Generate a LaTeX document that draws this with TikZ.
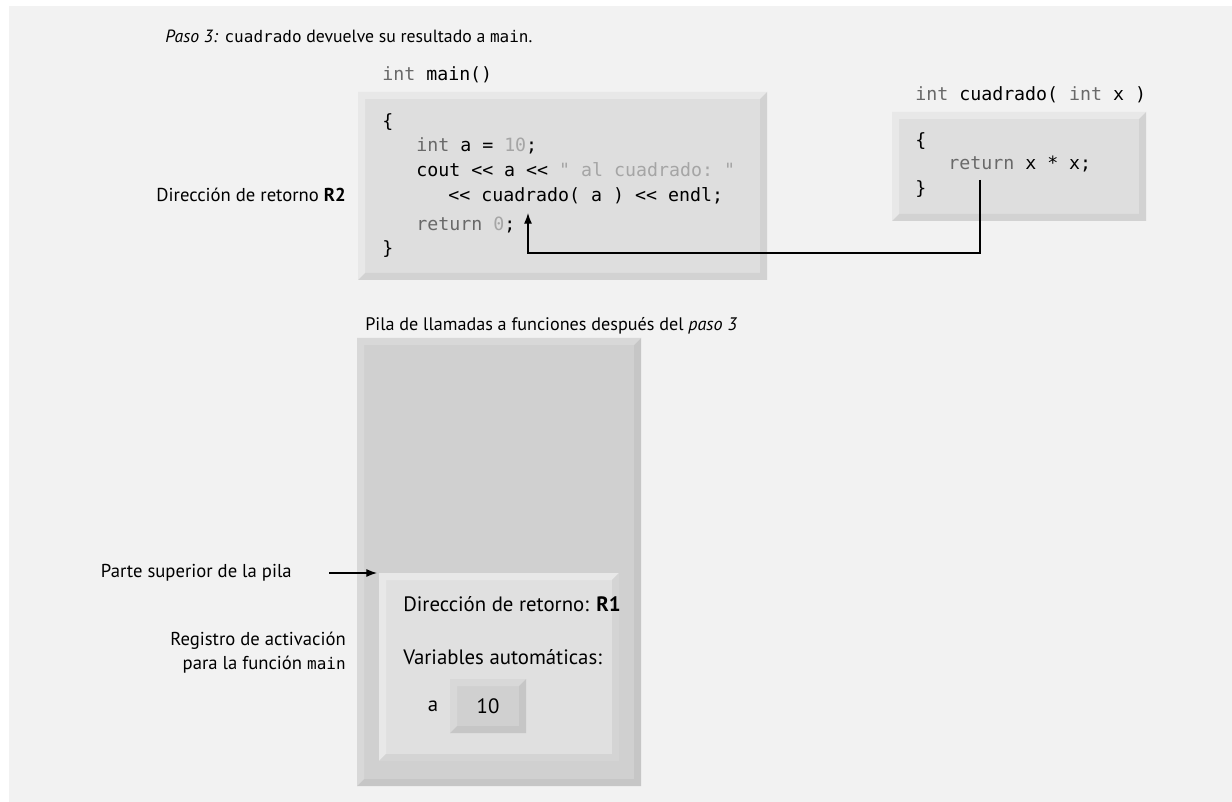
\documentclass[tikz,border=0pt]{standalone}
\usepackage{fontspec}
\setmainfont{PT Sans}
\setmonofont{DejaVu Sans Mono}
\usepackage{xcolor}
\definecolor{fondo}{RGB}{242,242,242}
\definecolor{palabra}{RGB}{105,105,105}
\definecolor{literal}{RGB}{165,165,165}
\definecolor{cara}{RGB}{222,222,222}
\definecolor{caraluz}{RGB}{232,232,232}
\definecolor{carasombra}{RGB}{210,210,210}
\definecolor{pila}{RGB}{208,208,208}
\definecolor{pilaluz}{RGB}{216,216,216}
\definecolor{pilasombra}{RGB}{198,198,198}
\definecolor{registro}{RGB}{224,224,224}
\definecolor{registroluz}{RGB}{232,232,232}
\definecolor{registrosombra}{RGB}{212,212,212}
\usepackage{tikz}
\usetikzlibrary{arrows.meta, positioning, calc}

\newcommand{\codefont}{\fontsize{13.7pt}{16pt}\selectfont\ttfamily}
\newcommand{\titlefont}{\fontsize{13.3pt}{16pt}\selectfont}
\newcommand{\sidefont}{\fontsize{14pt}{18pt}\selectfont}
\newcommand{\pilafont}{\fontsize{13.6pt}{16pt}\selectfont}
\newcommand{\recfont}{\fontsize{15.6pt}{18pt}\selectfont}
\newcommand{\kw}[1]{\textcolor{palabra}{#1}}
\newcommand{\lit}[1]{\textcolor{literal}{#1}}
\newcommand{\mn}[1]{{\fontsize{12pt}{14pt}\selectfont\ttfamily #1}}
% bevel round a face node: node, width, light, dark
\newcommand{\bevel}[4]{%
  \fill[#3] ($(#1.north west)+(-#2,-#2)$) -- ($(#1.north east)+(#2,-#2)$)
    -- (#1.north east) -- (#1.north west) -- (#1.south west)
    -- ($(#1.south west)+(-#2,#2)$) -- cycle;
  \fill[#4] ($(#1.south west)+(-#2,#2)$) -- ($(#1.south east)+(#2,#2)$)
    -- ($(#1.north east)+(#2,-#2)$) -- (#1.north east)
    -- (#1.south east) -- (#1.south west) -- cycle;
}

\begin{document}
\begin{tikzpicture}[
    x=0.75pt, y=-0.75pt,
    face/.style={inner sep=0pt, outer sep=0pt, anchor=north west},
    codeline/.style={font=\codefont, anchor=base west, inner sep=0pt},
    txt/.style={inner sep=0pt},
    arrow/.style={-{Latex[length=8pt,width=6pt]}, line width=0.9pt}
  ]
  \useasboundingbox (0,0) rectangle (1232,802);
  \fill[fondo] (9,6) rectangle (1232,802);

  % Title
  \node[txt, font=\titlefont, anchor=base west] (title) at (165,43)
    {\textit{Paso 3:} \mn{cuadrado} devuelve su resultado a \mn{main}.};

  % main
  \node[codeline] (mainhead) at (382,81) {\kw{int} main()};
  \node[face, fill=cara, minimum width=296.25pt, minimum height=130.5pt] (mainbox) at (365,99) {};
  \bevel{mainbox}{7}{caraluz}{carasombra}
  \node[codeline] (m1) at (382,128) {\{};
  \node[codeline] (m2) at (416,152) {\kw{int} a = \lit{10};};
  \node[codeline] (m3) at (416,177) {cout << a << \lit{" al cuadrado: "}};
  \node[codeline] (m4) at (448,202) {<< cuadrado( a ) << endl;};
  \node[codeline] (m5) at (416,231) {\kw{return} \lit{0};};
  \node[codeline] (m6) at (382,255) {\}};
  \node[txt, font=\sidefont, anchor=base east] (r2) at (346,202) {Dirección de retorno \textbf{R2}};

  % cuadrado
  \node[codeline] (cuadhead) at (915,101) {\kw{int} cuadrado( \kw{int} x )};
  \node[face, fill=cara, minimum width=180pt, minimum height=71.25pt] (cuadbox) at (899,119) {};
  \bevel{cuadbox}{7}{caraluz}{carasombra}
  \node[codeline] (c1) at (915,147) {\{};
  \node[codeline] (c2) at (948,170) {\kw{return} x * x;};
  \node[codeline] (c3) at (915,195) {\}};

  % Return arrow
  \coordinate (retsrc) at (980,180);
  \coordinate (retbend) at (980,253);
  \coordinate (retdst) at (528,213);
  \draw[arrow] (retsrc) -- (retbend) -| (retdst);

  % Stack
  \node[txt, font=\pilafont, anchor=base west] (pilatitle) at (365,330)
    {Pila de llamadas a funciones después del \textit{paso 3}};
  \node[face, fill=pila, minimum width=202.5pt, minimum height=325.5pt] (pila) at (364,345) {};
  \bevel{pila}{7}{pilaluz}{pilasombra}

  % Activation record
  \node[face, fill=registro, minimum width=169.5pt, minimum height=130.5pt] (registro) at (386,580) {};
  \bevel{registro}{7}{registroluz}{registrosombra}
  \node[txt, font=\recfont, anchor=base west] (retR1) at (403,611) {Dirección de retorno: \textbf{R1}};
  \node[txt, font=\recfont, anchor=base west] (vars) at (403,664) {Variables automáticas:};
  \node[txt, font=\recfont, anchor=base] (vara) at (433,711) {a};
  \node[face, fill=pila, minimum width=46.5pt, minimum height=30pt, font=\recfont] (vala) at (457,686) {10};
  \bevel{vala}{7}{pilaluz}{pilasombra}

  % Left labels
  \node[txt, font=\sidefont, anchor=east] (tope) at (292,573) {Parte superior de la pila};
  \draw[arrow] ([xshift=28pt]tope.east) -- ($(registro.north west)+(-9,-7)$);
  \node[txt, font=\sidefont, anchor=east, align=right] (regact) at (346,653)
    {Registro de activación\\para la función \mn{main}};

\end{tikzpicture}
\end{document}
